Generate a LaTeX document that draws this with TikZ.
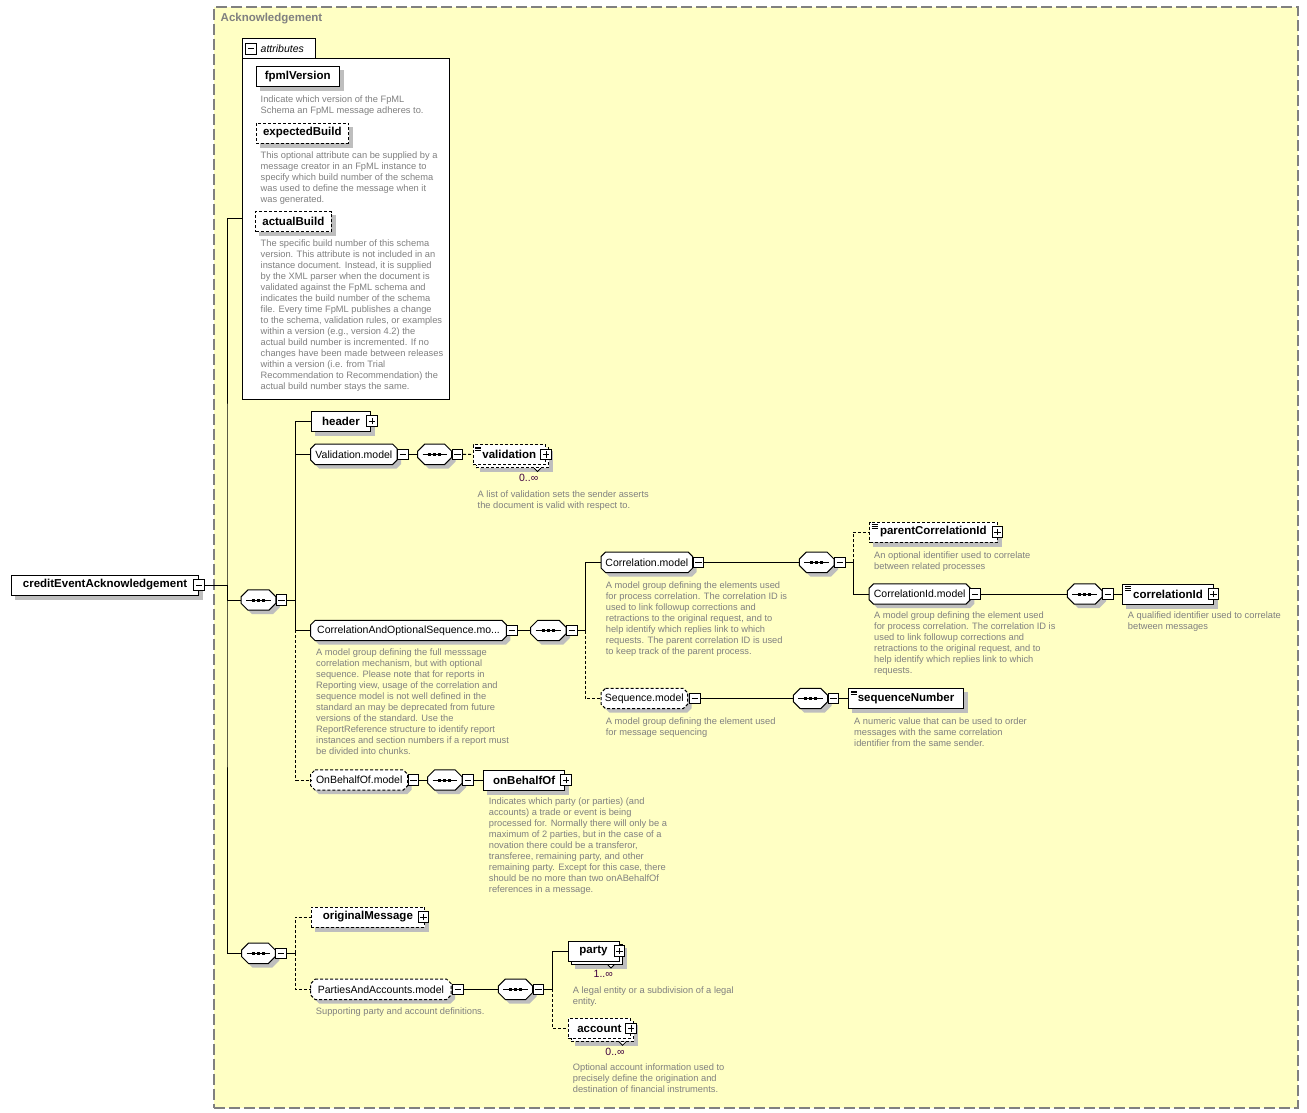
\documentclass[tikz,border=0pt]{standalone}
\usepackage{fontspec}
\setmainfont{Liberation Sans}
\usepackage{tikz}
\usetikzlibrary{calc,shadows}
\definecolor{paperc}{RGB}{255,255,196}
\definecolor{framec}{RGB}{128,128,128}
\definecolor{notec}{RGB}{128,128,128}
\definecolor{shadowc}{RGB}{190,190,190}
\definecolor{multc}{RGB}{64,0,64}
\pgfdeclarelayer{paper}
\pgfdeclarelayer{shapes}
\pgfsetlayers{paper,shapes,main}
\newcommand\elemfont{\fontsize{11.5}{13}\selectfont\bfseries}
\newcommand\grpfont{\fontsize{10.5}{12}\selectfont}
\newcommand\notefont{\fontsize{9.3}{11}\selectfont}
% outline of a chamfered box round node #1, chamfer #2, shifted by #3
\newcommand\octpath[3]{([xshift=#3+#2, yshift=-#3]#1.north west) -- ([xshift=#3-#2, yshift=-#3]#1.north east)
  -- ([xshift=#3, yshift=-#3-#2]#1.north east) -- ([xshift=#3, yshift=-#3+#2]#1.south east)
  -- ([xshift=#3-#2, yshift=-#3]#1.south east) -- ([xshift=#3+#2, yshift=-#3]#1.south west)
  -- ([xshift=#3, yshift=-#3+#2]#1.south west) -- ([xshift=#3, yshift=-#3-#2]#1.north west) -- cycle}
\newcommand\octo[3]{\begin{pgfonlayer}{shapes}
  \fill[shadowc] \octpath{#1}{#2}{4pt};
  \draw[line width=1pt, fill=white, #3] \octpath{#1}{#2}{0pt};
  \end{pgfonlayer}}
\newcommand\seqsym[1]{\begin{pgfonlayer}{shapes}
  \draw[line width=1pt] ([xshift=5pt]#1.west) -- ([xshift=-5pt]#1.east);
  \foreach \d in {-5,0,5}
    \fill ([xshift=\d*1pt-1.5pt, yshift=-1.5pt]#1.center) rectangle ++(3pt,3pt);
  \end{pgfonlayer}}
\tikzset{
  wire/.style     = {line width=1pt},
  optwire/.style  = {wire, dash pattern=on 3pt off 2pt},
  elem/.style     = {draw, line width=1pt, fill=white, anchor=west, minimum height=20pt,
                     inner sep=0pt, font=\elemfont},
  optel/.style    = {elem, dash pattern=on 3pt off 2pt},
  many/.style     = {copy shadow={shadow xshift=3pt, shadow yshift=-3pt, draw=black, fill=white},
                     append after command={\pgfextra{\draw[line width=0.8pt, solid, fill=white]
                       ([xshift=-12pt, yshift=-3pt]\tikzlastnode.south east) -- ++(3.5pt,-3.5pt) -- ++(3.5pt,3.5pt);}}},
  typed/.style    = {path picture={\draw[line width=0.7pt, solid] \foreach \d in {2.5,4.3,6.1}
                     {([xshift=2pt, yshift=-\d*1pt]path picture bounding box.north west) -- ++(6pt,0pt)};}},
  grp/.style      = {anchor=west, minimum height=20pt, inner sep=0pt, font=\grpfont,
                     append after command={\pgfextra{\octo{\tikzlastnode}{4.5pt}{solid}}}},
  optgrp/.style   = {anchor=west, minimum height=20pt, inner sep=0pt, font=\grpfont,
                     append after command={\pgfextra{\octo{\tikzlastnode}{4.5pt}{dash pattern=on 3pt off 2pt}}}},
  seqc/.style     = {anchor=west, minimum height=20pt, minimum width=34pt, inner sep=0pt,
                     append after command={\pgfextra{\octo{\tikzlastnode}{7pt}{solid}\seqsym{\tikzlastnode}}}},
  minusbox/.style = {draw, line width=1pt, fill=white, minimum size=10.5pt, inner sep=0pt,
                     path picture={\draw[line width=1pt] ([xshift=2pt]path picture bounding box.west)
                       -- ([xshift=-2pt]path picture bounding box.east);}},
  plusbox/.style  = {draw, line width=1pt, fill=white, minimum size=10.5pt, inner sep=0pt,
                     path picture={\draw[line width=1pt] ([xshift=2pt]path picture bounding box.west)
                       -- ([xshift=-2pt]path picture bounding box.east)
                       ([yshift=2pt]path picture bounding box.south)
                       -- ([yshift=-2pt]path picture bounding box.north);}},
  note/.style     = {font=\notefont, text=notec, align=left, inner sep=0pt, anchor=north west},
  mult/.style     = {font=\grpfont, text=multc, inner sep=0pt},
}
\begin{document}
\begin{tikzpicture}[x=1pt, y=-1pt]
\useasboundingbox (0,0) rectangle (1307,1112);

\begin{pgfonlayer}{paper}
\fill[white] (0,0) rectangle (1307,1112);
\node[draw=framec, line width=2pt, dash pattern=on 11pt off 4pt, fill=paperc, anchor=north west,
  minimum width=1083.5, minimum height=1101, inner sep=0pt] (ack) at (213,5.5) {};
\node[draw, line width=1pt, fill=white, anchor=north west, minimum width=206.5, minimum height=341.5,
  inner sep=0pt] (attr) at (242,57.5) {};
\node[draw, line width=1pt, fill=white, anchor=south west, minimum width=72.5, minimum height=19,
  inner sep=0pt] (attab) at (attr.north west) {};
\fill[white] ([xshift=0.6pt, yshift=-0.6pt]attab.south west) rectangle ([xshift=-0.6pt, yshift=0.6pt]attab.south east);
\end{pgfonlayer}
\node[font=\elemfont, text=framec, anchor=west, inner sep=0pt] (acklbl) at (220.5,19) {Acknowledgement};
\node[minusbox] (attabm) at (251,48.8) {};
\node[font=\grpfont\itshape, anchor=west, inner sep=0pt] (attabt) at (260.5,48.5) {attributes};
\coordinate (attrin) at (242,218);

\node[elem, minimum width=83] (fpml) at (255.7,76.7) {fpmlVersion};
\node[note] (fpmln) at (260.5,95.3) {Indicate which version of the FpML\\Schema an FpML message adheres to.};
\node[optel, minimum width=92.3] (expb) at (255.7,133) {expectedBuild};
\node[note] (expbn) at (260.5,151.2) {This optional attribute can be supplied by a\\message creator in an FpML instance to\\specify which build number of the schema\\was used to define the message when it\\was generated.};
\node[optel, minimum width=75.7] (actb) at (255,221.7) {actualBuild};
\node[note] (actbn) at (260.5,239.5) {The specific build number of this schema\\version. This attribute is not included in an\\instance document. Instead, it is supplied\\by the XML parser when the document is\\validated against the FpML schema and\\indicates the build number of the schema\\file. Every time FpML publishes a change\\to the schema, validation rules, or examples\\within a version (e.g., version 4.2) the\\actual build number is incremented. If no\\changes have been made between releases\\within a version (i.e. from Trial\\Recommendation to Recommendation) the\\actual build number stays the same.};

\node[elem, minimum width=187] (root) at (11,585) {creditEventAcknowledgement};
\node[minusbox] (rootm) at (root.east) {};
\coordinate (j0) at (227,585);

\node[seqc, minimum width=34.5] (seq1) at (241,600) {};
\node[minusbox, anchor=west] (seq1m) at (seq1.east) {};
\coordinate (j1) at (295.5,600);

\node[elem, minimum width=59.5] (hdr) at (310.7,421) {header};
\node[plusbox] (hdrp) at ([xshift=1pt]hdr.east) {};

\node[grp, minimum width=86] (valg) at (310.7,454.3) {Validation.model};
\node[minusbox, anchor=west] (valgm) at (valg.east) {};
\node[seqc, minimum width=33.5] (valq) at (417.7,454.3) {};
\node[minusbox, anchor=west] (valqm) at (valq.east) {};
\node[optel, typed, many, minimum width=72.5] (val) at (472.5,454.5) {validation};
\node[plusbox] (valp) at (val.east) {};
\node[mult] (valc) at (528.7,477.7) {0..∞};
\node[note] (valn) at (477.5,490.5) {A list of validation sets the sender asserts\\the document is valid with respect to.};

\node[grp, minimum width=195.3] (caos) at (310.7,630.5) {CorrelationAndOptionalSequence.mo...};
\node[minusbox, anchor=west] (caosm) at (caos.east) {};
\node[seqc, minimum width=35] (caosq) at (530.7,630.5) {};
\node[minusbox, anchor=west] (caosqm) at (caosq.east) {};
\coordinate (j2) at (585.3,630.5);
\node[note] (caosn) at (316,648.9) {A model group defining the full messsage\\correlation mechanism, but with optional\\sequence. Please note that for reports in\\Reporting view, usage of the correlation and\\sequence model is not well defined in the\\standard an may be deprecated from future\\versions of the standard. Use the\\ReportReference structure to identify report\\instances and section numbers if a report must\\be divided into chunks.};

\node[grp, minimum width=91.3] (corr) at (601,562.3) {Correlation.model};
\node[minusbox, anchor=west] (corrm) at (corr.east) {};
\node[seqc, minimum width=34.4] (corrq) at (799.3,562.3) {};
\node[minusbox, anchor=west] (corrqm) at (corrq.east) {};
\coordinate (j3) at (853.3,562.3);
\node[note] (corrn) at (605.7,581.2) {A model group defining the elements used\\for process correlation. The correlation ID is\\used to link followup corrections and\\retractions to the original request, and to\\help identify which replies link to which\\requests. The parent correlation ID is used\\to keep track of the parent process.};

\node[optel, typed, minimum width=127.7] (pcid) at (869,532) {parentCorrelationId};
\node[plusbox] (pcidp) at (pcid.east) {};
\node[note] (pcidn) at (874,551.2) {An optional identifier used to correlate\\between related processes};

\node[grp, minimum width=101] (cidg) at (869,594) {CorrelationId.model};
\node[minusbox, anchor=west] (cidgm) at ([xshift=-1pt]cidg.east) {};
\node[seqc, minimum width=34.4] (cidq) at (1067.3,594) {};
\node[minusbox, anchor=west] (cidqm) at (cidq.east) {};
\node[elem, typed, minimum width=90.4] (cid) at (1122.3,594) {correlationId};
\node[plusbox] (cidp) at (cid.east) {};
\node[note] (cidgn) at (874,611.9) {A model group defining the element used\\for process correlation. The correlation ID is\\used to link followup corrections and\\retractions to the original request, and to\\help identify which replies link to which\\requests.};
\node[note] (cidn) at (1127.7,611.9) {A qualified identifier used to correlate\\between messages};

\node[optgrp, minimum width=86.3] (seqg) at (601,698.5) {Sequence.model};
\node[minusbox, anchor=west] (seqgm) at ([xshift=1.5pt]seqg.east) {};
\node[seqc, minimum width=34] (seqq) at (793.3,698.5) {};
\node[minusbox, anchor=west] (seqqm) at (seqq.east) {};
\node[elem, typed, minimum width=114.4] (sqn) at (848.3,698.5) {sequenceNumber};
\node[note] (seqgn) at (605.7,717.9) {A model group defining the element used\\for message sequencing};
\node[note] (sqnn) at (854,717.9) {A numeric value that can be used to order\\messages with the same correlation\\identifier from the same sender.};

\node[optgrp, minimum width=96.6] (obog) at (310.7,780) {OnBehalfOf.model};
\node[minusbox, anchor=west] (obogm) at (obog.east) {};
\node[seqc, minimum width=34] (oboq) at (427.7,780) {};
\node[minusbox, anchor=west] (oboqm) at (oboq.east) {};
\node[elem, minimum width=80.7] (obo) at (483.3,780) {onBehalfOf};
\node[plusbox] (obop) at ([xshift=1pt]obo.east) {};
\node[note] (obon) at (488.7,797.9) {Indicates which party (or parties) (and\\accounts) a trade or event is being\\processed for. Normally there will only be a\\maximum of 2 parties, but in the case of a\\novation there could be a transferor,\\transferee, remaining party, and other\\remaining party. Except for this case, there\\should be no more than two onABehalfOf\\references in a message.};

\node[seqc, minimum width=33.5] (seq2) at (241.5,953.3) {};
\node[minusbox, anchor=west] (seq2m) at (seq2.east) {};
\coordinate (j4) at (295,953.3);

\node[optel, minimum width=113.3] (orig) at (310.7,917) {originalMessage};
\node[plusbox] (origp) at ([xshift=-1.7pt]orig.east) {};

\node[optgrp, minimum width=140] (pacg) at (310.7,989.3) {PartiesAndAccounts.model};
\node[minusbox, anchor=west] (pacgm) at ([xshift=1pt]pacg.east) {};
\node[seqc, minimum width=34] (pacq) at (498.3,989.3) {};
\node[minusbox, anchor=west] (pacqm) at (pacq.east) {};
\coordinate (j5) at (552.3,989.3);
\node[note] (pacgn) at (315.7,1007.9) {Supporting party and account definitions.};

\node[elem, many, minimum width=51] (party) at (567.5,951) {party};
\node[plusbox] (partyp) at (party.east) {};
\node[mult] (partyc) at (603.3,973.7) {1..∞};
\node[note] (partyn) at (572.7,986.2) {A legal entity or a subdivision of a legal\\entity.};

\node[optel, many, minimum width=62.3] (acct) at (567.7,1028.3) {account};
\node[plusbox] (acctp) at (acct.east) {};
\node[mult] (acctc) at (615,1052.3) {0..∞};
\node[note] (acctn) at (572.7,1063.9) {Optional account information used to\\precisely define the origination and\\destination of financial instruments.};

\begin{pgfonlayer}{shapes}
  \foreach \n in {fpml,expb,actb,root,hdr,pcid,cid,sqn,obo,orig}
    \fill[shadowc] ([xshift=4pt, yshift=-4pt]\n.north west) rectangle ([xshift=4pt, yshift=-4pt]\n.south east);
  \foreach \n in {val,party,acct}
    \fill[shadowc] ([xshift=7pt, yshift=-7pt]\n.north west) rectangle ([xshift=7pt, yshift=-7pt]\n.south east);
\end{pgfonlayer}

\draw[wire] (rootm.east) -- (j0);
\draw[wire] (attrin) -| (j0) |- (seq2.west);
\draw[wire] (j0) |- (seq1.west);
\draw[wire] (seq1m.east) -- (j1);
\draw[wire] (j1) |- (hdr.west);
\draw[wire] (j1) |- (valg.west);
\draw[wire] (j1) |- (caos.west);
\draw[optwire] (j1) |- (obog.west);
\draw[wire] (valgm.east) -- (valq.west);
\draw[optwire] (valqm.east) -- (val.west);
\draw[wire] (caosm.east) -- (caosq.west);
\draw[wire] (caosqm.east) -- (j2);
\draw[wire] (j2) |- (corr.west);
\draw[optwire] (j2) |- (seqg.west);
\draw[wire] (corrm.east) -- (corrq.west);
\draw[wire] (corrqm.east) -- (j3);
\draw[optwire] (j3) |- (pcid.west);
\draw[wire] (j3) |- (cidg.west);
\draw[wire] (cidgm.east) -- (cidq.west);
\draw[wire] (cidqm.east) -- (cid.west);
\draw[wire] (seqgm.east) -- (seqq.west);
\draw[wire] (seqqm.east) -- (sqn.west);
\draw[wire] (obogm.east) -- (oboq.west);
\draw[wire] (oboqm.east) -- (obo.west);
\draw[wire] (seq2m.east) -- (j4);
\draw[optwire] (j4) |- (orig.west);
\draw[optwire] (j4) |- (pacg.west);
\draw[wire] (pacgm.east) -- (pacq.west);
\draw[wire] (pacqm.east) -- (j5);
\draw[wire] (j5) |- (party.west);
\draw[optwire] (j5) |- (acct.west);

\end{tikzpicture}
\end{document}
